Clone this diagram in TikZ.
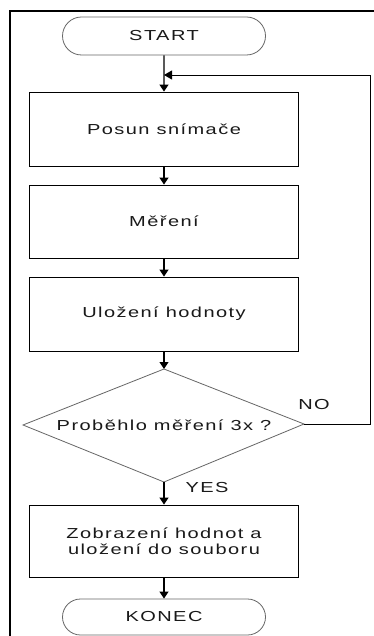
\documentclass[tikz,border=0pt]{standalone}
\usepackage{fontspec}
\setmainfont[FakeStretch=1.38,LetterSpace=10]{Liberation Sans}
\usetikzlibrary{shapes.misc,arrows.meta}
\begin{document}
\begin{tikzpicture}[x=1pt,y=-1pt,
  every node/.style={font=\fontsize{14.5}{15.5}\selectfont, text=black!90},
  procbox/.style={draw=black, line width=0.9pt, minimum width=269pt, inner sep=0pt, align=center},
  term/.style={draw=black!60, line width=0.8pt, rounded rectangle, minimum width=203pt, inner sep=0pt},
  dec/.style={draw=black!60, line width=0.8pt},
  arr/.style={line width=1.2pt, -{Triangle[width=9pt,length=7pt]}},
  loopln/.style={line width=0.8pt, -{Triangle[width=9pt,length=8pt]}},
  frame/.style={line width=1.5pt}]
\useasboundingbox (0,0) rectangle (374,636);
\fill[white] (0,0) rectangle (374,636);
\draw[frame] (10,640) -- (10,11) -- (380,11);

\node[term, minimum height=38pt] (start) at (164,36) {START};
\node[procbox, minimum height=74pt] (b1) at (164,129) {Posun snímače};
\node[procbox, minimum height=73pt] (b2) at (164,221.5) {Měření};
\node[procbox, minimum height=74pt] (b3) at (164,314) {Uložení hodnoty};

\coordinate (dt) at (164,369);
\coordinate (dr) at (304,424);
\coordinate (db) at (164,482);
\coordinate (dl) at (23,425);
\draw[dec] (dt) -- (dr) -- (db) -- (dl) -- cycle;
\node (q) at (164,425) {Proběhlo měření 3x ?};
\node (no) at (314,405) {NO};
\node (yes) at (207,488) {YES};

\node[procbox, minimum height=72pt] (b4) at (164,541) {Zobrazení hodnot a\\uložení do souboru};
\node[term, minimum height=36pt] (end) at (164,617) {KONEC};

\coordinate (c1) at (370,424);
\coordinate (c2) at (370,75);
\coordinate (lp) at (164,75);

\draw[arr] (start) -- (b1);
\draw[arr] (b1) -- (b2);
\draw[arr] (b2) -- (b3);
\draw[arr] (b3) -- (dt);
\draw[arr] (db) -- (b4);
\draw[arr] (b4) -- (end);
\draw[loopln] (dr) -- (c1) -- (c2) -- (lp);
\end{tikzpicture}
\end{document}
